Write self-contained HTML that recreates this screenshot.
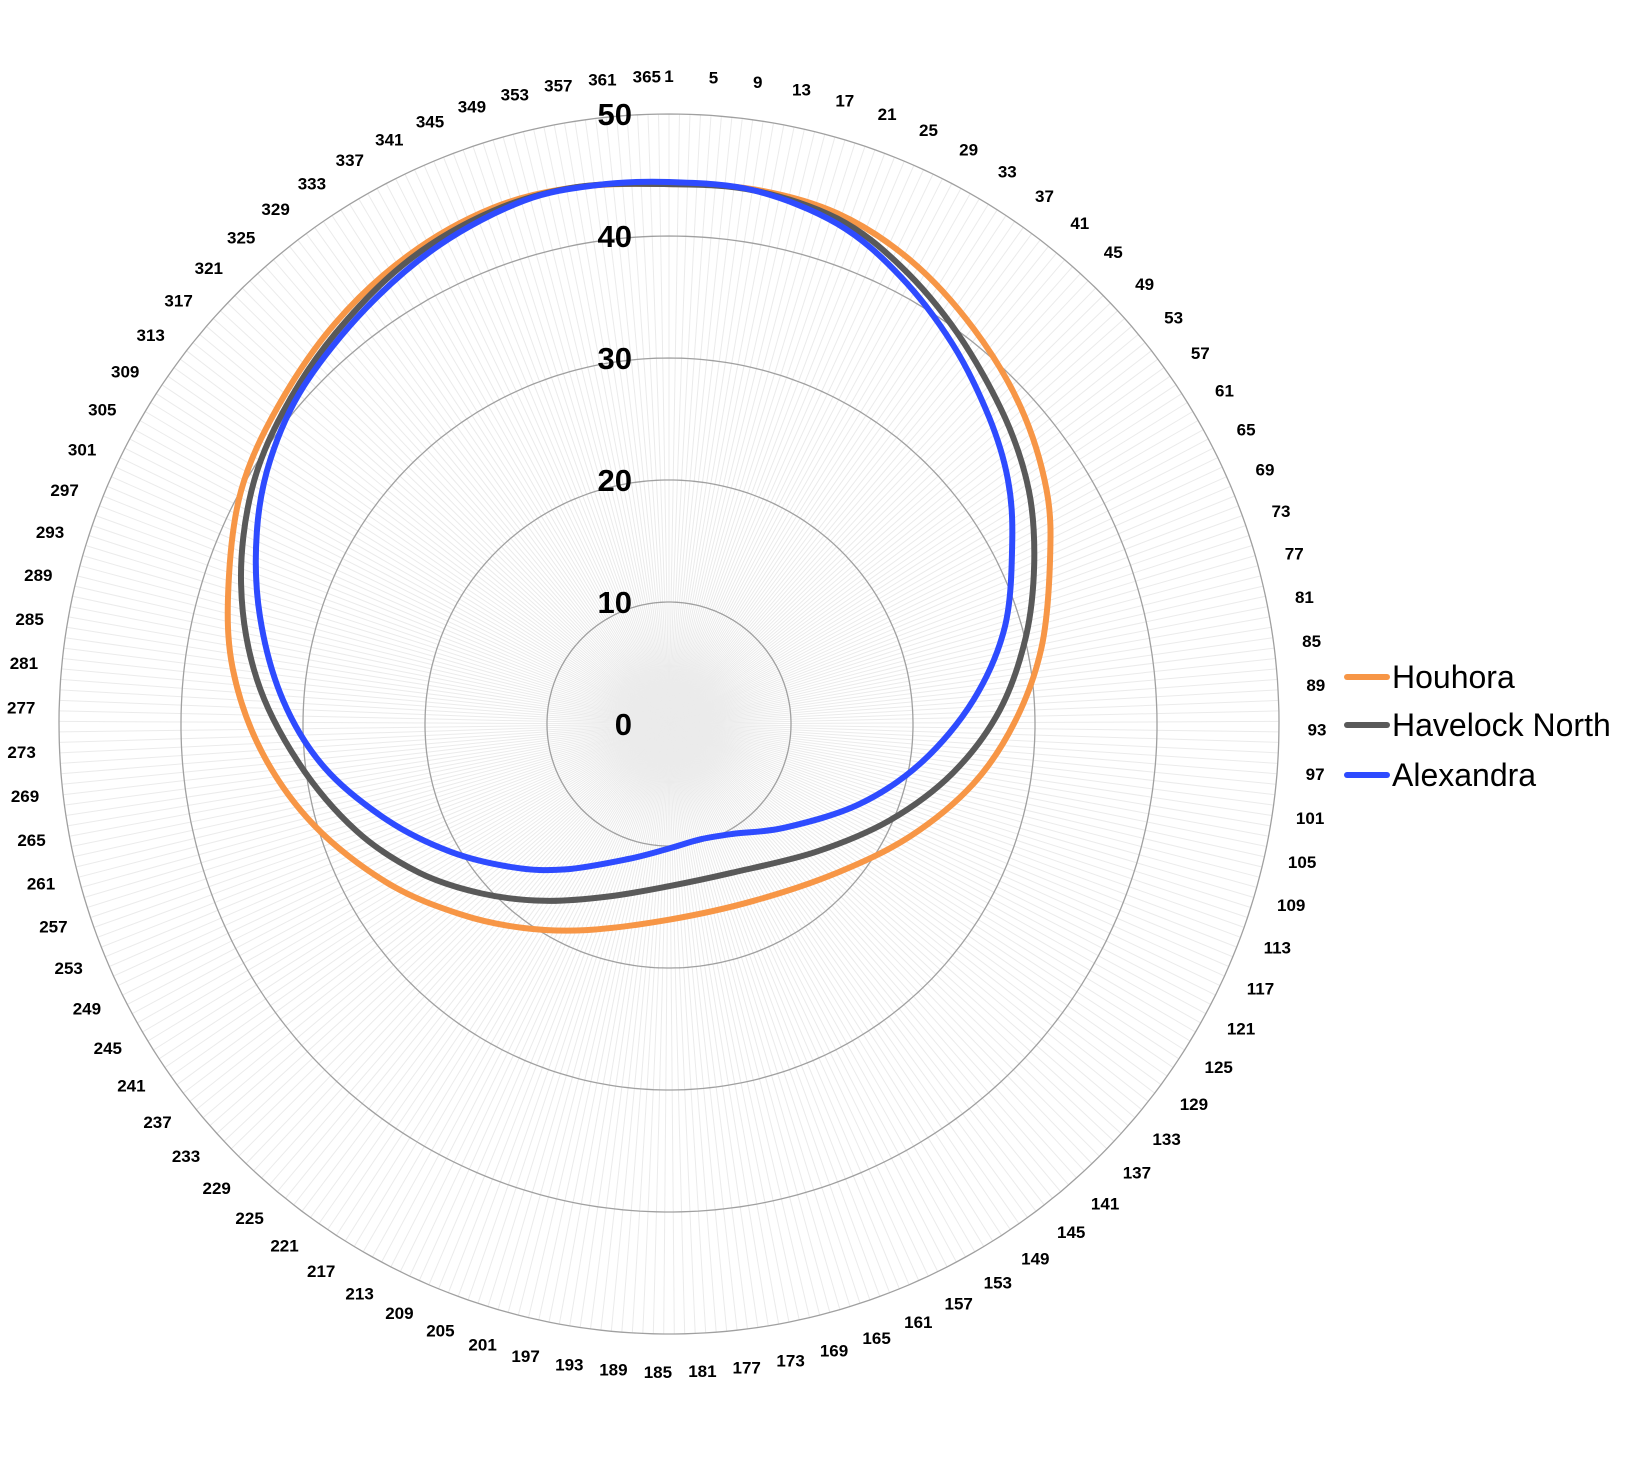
<!DOCTYPE html>
<html><head><meta charset="utf-8"><style>
html,body{margin:0;padding:0;background:#fff;}
svg text{font-family:"Liberation Sans",Arial,sans-serif;}
</style></head><body>
<svg id="s" width="1642" height="1452" viewBox="0 0 1642 1452" xmlns="http://www.w3.org/2000/svg"></svg>
<script>
const s=document.getElementById('s');
const cx=669, cy=724, R=610, maxV=50;
let h='';
function pt(day,r){const a=(day-1)/365*2*Math.PI;return [cx+r*Math.sin(a), cy-r*Math.cos(a)];}
function ptL(day,r){const a=(day-1)/366*2*Math.PI;return [cx+r*Math.sin(a), cy-r*Math.cos(a)];}
for(let d=1;d<=365;d++){const p=pt(d,R);h+=`<line x1="${cx}" y1="${cy}" x2="${p[0].toFixed(1)}" y2="${p[1].toFixed(1)}" stroke="#ebebeb" stroke-width="1"/>`;}
for(let v=10;v<=50;v+=10){let ps=[];for(let d=1;d<=365;d++){const p=pt(d,v/maxV*R);ps.push(p[0].toFixed(1)+','+p[1].toFixed(1));}
h+=`<polygon points="${ps.join(' ')}" fill="none" stroke="#a0a0a0" stroke-width="1.3"/>`;}
const sc=610/583;
function cv(p){return [(p[0]-639)*sc+cx,(p[1]-693)*sc+cy];}
const series=[
['#f79646',[[639,177],[720,182],[800,205],[870,250],[930,315],[975,390],[1000,470],[1003,540],[995,620],[970,690],[930,750],[870,800],[800,835],[720,862],[639,880],[560,890],[500,888],[440,875],[370,845],[300,790],[250,720],[222,640],[218,560],[230,470],[265,390],[320,310],[390,245],[470,200],[550,180]]],
['#595959',[[639,177],[720,183],[800,210],[860,255],[915,320],[960,400],[983,470],[988,540],[980,610],[955,680],[910,740],[850,785],[780,815],[700,835],[639,848],[580,858],[520,862],[460,855],[400,835],[340,795],[285,730],[245,650],[230,560],[240,470],[270,395],[320,320],[390,250],[470,203],[550,180]]],
['#2e4bff',[[639,175],[720,183],[800,215],[860,265],[910,330],[945,400],[963,460],[967,520],[960,600],[930,670],[880,730],[820,770],[750,792],[700,798],[670,803],[639,812],[600,822],[540,832],[490,830],[430,815],[370,785],[310,735],[270,670],[248,590],[245,510],[258,440],[290,370],[350,295],[420,235],[500,193],[570,178]]]
];
for(const [c,raw] of series){const P=raw.map(cv);const n=P.length;
 let d=`M${P[0][0].toFixed(1)},${P[0][1].toFixed(1)}`;
 for(let i=0;i<n;i++){const p0=P[(i-1+n)%n],p1=P[i],p2=P[(i+1)%n],p3=P[(i+2)%n];
  const c1=[p1[0]+(p2[0]-p0[0])/6,p1[1]+(p2[1]-p0[1])/6],c2=[p2[0]-(p3[0]-p1[0])/6,p2[1]-(p3[1]-p1[1])/6];
  d+=` C${c1[0].toFixed(1)},${c1[1].toFixed(1)} ${c2[0].toFixed(1)},${c2[1].toFixed(1)} ${p2[0].toFixed(1)},${p2[1].toFixed(1)}`;}
 h+=`<path d="${d}Z" fill="none" stroke="${c}" stroke-width="6" stroke-linejoin="round"/>`;}
for(let v=0;v<=50;v+=10){const y=cy-v/maxV*R;h+=`<text x="632" y="${y+11}" text-anchor="end" font-size="31" font-weight="bold" fill="#000">${v}</text>`;}
for(let d=1;d<=365;d+=4){const p=ptL(d,648);h+=`<text x="${p[0].toFixed(1)}" y="${(p[1]+6).toFixed(1)}" text-anchor="middle" font-size="17" font-weight="bold" fill="#000">${d}</text>`;}
const L=[['#f79646','Houhora',677],['#595959','Havelock North',725],['#2e4bff','Alexandra',775]];
for(const [c,t,y] of L){h+=`<line x1="1347" y1="${y}" x2="1387" y2="${y}" stroke="${c}" stroke-width="6" stroke-linecap="round"/><text x="1392" y="${y+11}" font-size="32" fill="#000">${t}</text>`;}
s.innerHTML=h;
</script>
</body></html>
